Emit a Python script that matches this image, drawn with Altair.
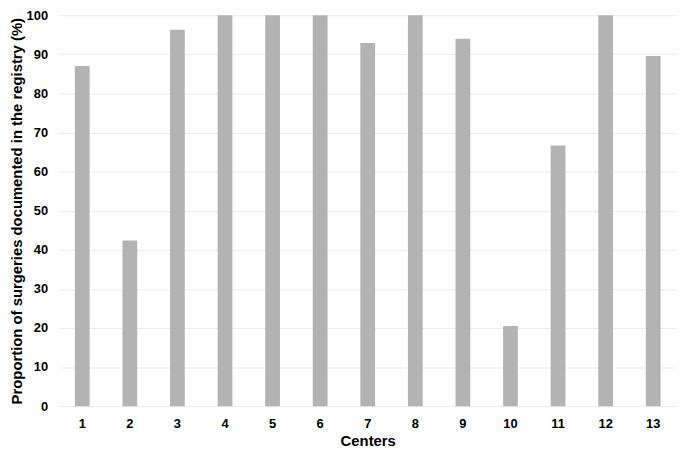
import altair as alt
import pandas as pd

centers = [str(i) for i in range(1, 14)]
proportions = [87.0, 42.4, 96.3, 100, 100, 100, 92.9, 100, 94.0, 20.5, 66.7, 100, 89.6]

df = pd.DataFrame({"center": centers, "value": proportions})

font = "Liberation Sans"

chart = alt.Chart(df).mark_bar(color="#b3b3b3").encode(
    x=alt.X("center:N", sort=centers, title="Centers",
            scale=alt.Scale(paddingInner=0.69, paddingOuter=0.345),
            axis=alt.Axis(labelAngle=0, ticks=False, domain=False, labelPadding=12,
                          labelFontSize=13, labelFontWeight="bold", labelColor="black",
                          titleFontSize=15, titleFontWeight="bold", titleColor="black",
                          titlePadding=3, labelFont=font, titleFont=font)),
    y=alt.Y("value:Q", title="Proportion of surgeries documented in the registry (%)",
            scale=alt.Scale(domain=[0, 100], nice=False),
            axis=alt.Axis(values=list(range(0, 101, 10)), ticks=False, domain=False,
                          labelPadding=11, grid=True, gridColor="#ebebeb", gridWidth=1,
                          labelFontSize=13, labelFontWeight="bold", labelColor="black",
                          titleFontSize=15, titleFontWeight="bold", titleColor="black",
                          titlePadding=2, labelFont=font, titleFont=font)),
).properties(
    width=625, height=395,
    autosize=alt.AutoSizeParams(type="none"),
    padding={"left": 51, "top": 5, "right": 0, "bottom": 40},
).configure_view(stroke=None)

chart.save("out.html", embed_options={"renderer": "svg", "actions": False})
